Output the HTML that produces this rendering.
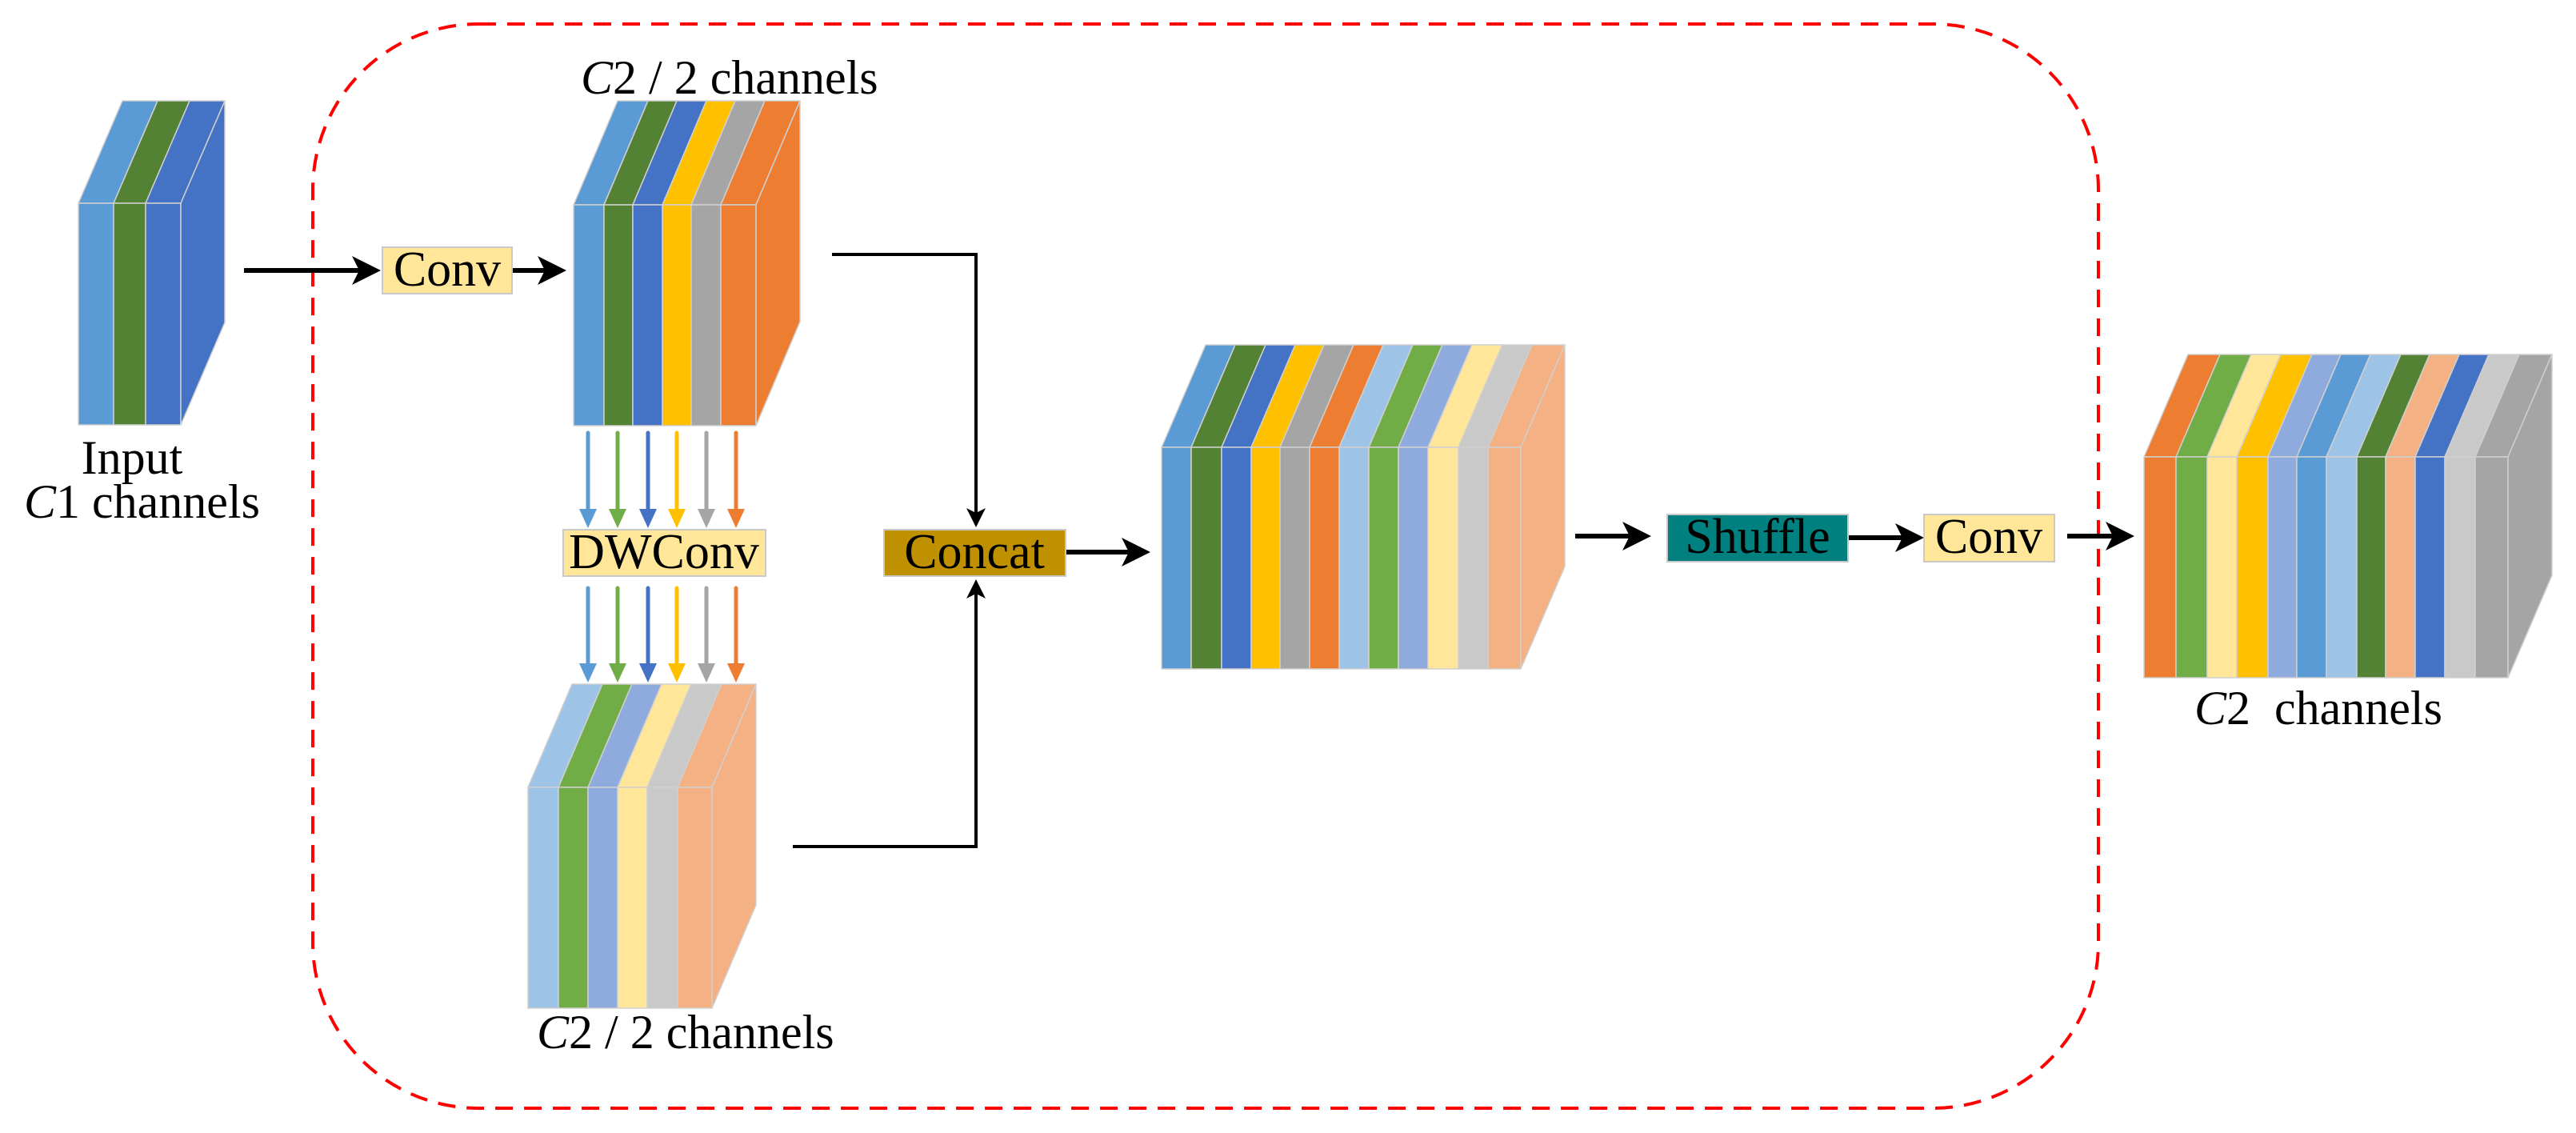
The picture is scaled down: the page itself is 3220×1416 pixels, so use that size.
<!DOCTYPE html>
<html><head><meta charset="utf-8"><style>
html,body{margin:0;padding:0;background:#fff;}
body{position:relative;width:3220px;height:1416px;overflow:hidden;}
svg{display:block;position:absolute;left:0;top:0}
.t{position:absolute;font-family:"Liberation Serif","Times New Roman","DejaVu Serif",serif;font-size:60px;line-height:60px;color:#000;white-space:nowrap;}
.c{transform:translateX(-50%);}
i{font-style:italic;}
</style></head><body>
<svg id="s" width="3220" height="1416" viewBox="0 0 3220 1416" xmlns="http://www.w3.org/2000/svg">
<defs>
<marker id="ah" markerWidth="6" markerHeight="6" refX="5" refY="3" orient="auto" markerUnits="strokeWidth"><path d="M0,0 L6,3 L0,6 L1.5,3 z" fill="#000"/></marker>
</defs>
<rect x="391" y="30" width="2232" height="1355" rx="207" ry="207" fill="none" stroke="#FF0000" stroke-width="4" stroke-dasharray="22,14"/>
<g id="blocks"></g>
<g stroke="#000" stroke-width="6" fill="none">
<line x1="305" y1="338" x2="470" y2="338" marker-end="url(#ah)"/>
<line x1="640" y1="338" x2="702" y2="338" marker-end="url(#ah)"/>
<polyline points="1040,318 1220,318 1220,655" stroke-width="4" marker-end="url(#ah)"/>
<polyline points="991,1058 1220,1058 1220,728" stroke-width="4" marker-end="url(#ah)"/>
<line x1="1332" y1="690" x2="1432" y2="690" marker-end="url(#ah)"/>
<line x1="1969" y1="670" x2="2058" y2="670" marker-end="url(#ah)"/>
<line x1="2310" y1="672" x2="2399" y2="672" marker-end="url(#ah)"/>
<line x1="2584" y1="670" x2="2662" y2="670" marker-end="url(#ah)"/>
</g>
<g id="carr"></g>
<rect x="478" y="309" width="162" height="58" fill="#FFE699" stroke="#C9C9C9" stroke-width="2"/>
<rect x="704" y="662" width="253" height="58" fill="#FFE699" stroke="#C9C9C9" stroke-width="2"/>
<rect x="1105" y="662" width="227" height="58" fill="#BF9000" stroke="#C9C9C9" stroke-width="2"/>
<rect x="2084" y="643" width="226" height="59" fill="#00807F" stroke="#C9C9C9" stroke-width="2"/>
<rect x="2405" y="643" width="163" height="59" fill="#FFE699" stroke="#C9C9C9" stroke-width="2"/>
</svg>
<div class="t c" style="left:559px;top:306px;font-size:62px;line-height:62px">Conv</div>
<div class="t c" style="left:830px;top:659px;font-size:62px;line-height:62px">DWConv</div>
<div class="t c" style="left:1218px;top:659px;font-size:62px;line-height:62px">Concat</div>
<div class="t c" style="left:2197px;top:640px;font-size:62px;line-height:62px">Shuffle</div>
<div class="t c" style="left:2486px;top:640px;font-size:62px;line-height:62px">Conv</div>
<div class="t c" style="left:165px;top:542px">Input</div>
<div class="t" style="left:30px;top:597px"><i>C</i>1 channels</div>
<div class="t" style="left:726px;top:67px"><i>C</i>2 / 2 channels</div>
<div class="t" style="left:671px;top:1260px"><i>C</i>2 / 2 channels</div>
<div class="t" style="left:2743px;top:855px"><i>C</i>2&nbsp; channels</div>
<script>
var NS="http://www.w3.org/2000/svg";
var g=document.getElementById('blocks');
function poly(pts,fill,par){var p=document.createElementNS(NS,'polygon');p.setAttribute('points',pts.map(function(a){return a.join(',')}).join(' '));p.setAttribute('fill',fill);p.setAttribute('stroke','#D0D0D0');p.setAttribute('stroke-width','1.5');(par||g).appendChild(p);}
function block(xs,cols,yf,yb,dx,dy){
 for(var i=0;i<cols.length;i++){
  var x0=xs[i],x1=xs[i+1];
  poly([[x0,yf],[x1,yf],[x1+dx,yf-dy],[x0+dx,yf-dy]],cols[i]);
  poly([[x0,yf],[x1,yf],[x1,yb],[x0,yb]],cols[i]);
 }
 var xr=xs[xs.length-1],c=cols[cols.length-1];
 poly([[xr,yf],[xr+dx,yf-dy],[xr+dx,yb-dy],[xr,yb]],c);
}
block([98,142,182,226],['#5B9BD5','#548235','#4472C4'],254,531,55,128);
block([717,755,791,828,864,901,945],['#5B9BD5','#548235','#4472C4','#FFC000','#A5A5A5','#ED7D31'],256,532,55,130);
block([660,698,735,772,809,847,890],['#9DC3E6','#70AD47','#8FAADC','#FFE699','#C9C9C9','#F4B183'],984,1260,55,129);
block([1452,1489,1527,1564,1600,1637,1674,1711,1748,1785,1823,1860,1901],['#5B9BD5','#548235','#4472C4','#FFC000','#A5A5A5','#ED7D31','#9DC3E6','#70AD47','#8FAADC','#FFE699','#C9C9C9','#F4B183'],559,836,55,128);
block([2680,2720,2759,2796,2835,2871,2908,2946,2982,3019,3056,3094,3135],['#ED7D31','#70AD47','#FFE699','#FFC000','#8FAADC','#5B9BD5','#9DC3E6','#548235','#F4B183','#4472C4','#C9C9C9','#A5A5A5'],571,847,55,128);
var ca=document.getElementById('carr');
var xs=[735,772,810,846,883,920],cc=['#5B9BD5','#70AD47','#4472C4','#FFC000','#A5A5A5','#ED7D31'];
[[538,660],[732,853]].forEach(function(r){
 xs.forEach(function(x,i){
  var l=document.createElementNS(NS,'line');l.setAttribute('x1',x);l.setAttribute('x2',x);l.setAttribute('y1',r[0]+3);l.setAttribute('y2',r[1]-22);
  l.setAttribute('stroke',cc[i]);l.setAttribute('stroke-width','5');l.setAttribute('stroke-linecap','round');ca.appendChild(l);
  var p=document.createElementNS(NS,'polygon');p.setAttribute('points',(x-11)+','+(r[1]-24)+' '+(x+11)+','+(r[1]-24)+' '+x+','+r[1]);p.setAttribute('fill',cc[i]);ca.appendChild(p);
 });
});
</script>
</body></html>
